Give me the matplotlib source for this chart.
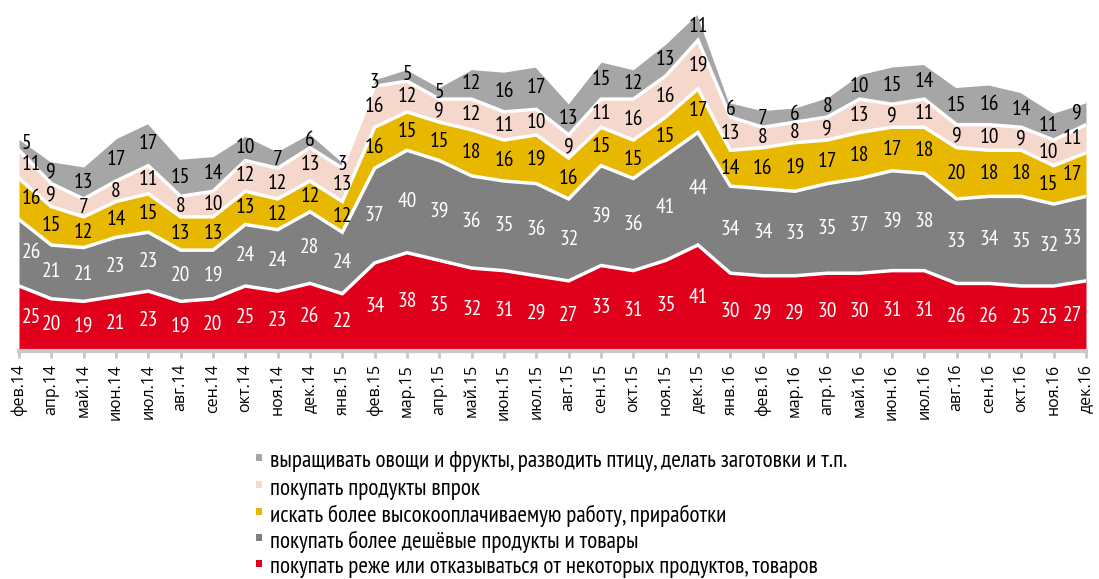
import matplotlib
matplotlib.use("Agg")
import matplotlib.pyplot as plt
from matplotlib import font_manager as fm
from matplotlib.patches import Rectangle
from matplotlib.transforms import offset_copy
import numpy as np

months = ["фев.14","апр.14","май.14","июн.14","июл.14","авг.14","сен.14","окт.14","ноя.14","дек.14",
          "янв.15","фев.15","мар.15","апр.15","май.15","июн.15","июл.15","авг.15","сен.15","окт.15",
          "ноя.15","дек.15","янв.16","фев.16","мар.16","апр.16","май.16","июн.16","июл.16","авг.16",
          "сен.16","окт.16","ноя.16","дек.16"]

reduce_buy = [25,20,19,21,23,19,20,25,23,26,22,34,38,35,32,31,29,27,33,31,35,41,30,29,29,30,30,31,31,26,26,25,25,27]
cheaper = [26,21,21,23,23,20,19,24,24,28,24,37,40,39,36,35,36,32,39,36,41,44,34,34,33,35,37,39,38,33,34,35,32,33]
better_job = [16,15,12,14,15,13,13,13,12,12,12,16,15,15,18,16,19,16,15,15,15,17,14,16,19,17,18,17,18,20,18,18,15,17]
stock_up = [11,9,7,8,11,8,10,12,12,13,13,16,12,9,12,11,10,9,11,16,16,19,13,8,8,9,13,9,11,9,10,9,10,11]
grow_own = [5,9,13,17,17,15,14,10,7,6,3,3,5,5,12,16,17,13,15,12,13,11,6,7,6,8,10,15,14,15,16,14,11,9]

series = [reduce_buy, cheaper, better_job, stock_up, grow_own]
names = ["покупать реже или отказываться от некоторых продуктов, товаров",
         "покупать более дешёвые продукты и товары",
         "искать более высокооплачиваемую работу, приработки",
         "покупать продукты впрок",
         "выращивать овощи и фрукты, разводить птицу, делать заготовки и т.п."]
colors = ["#E0001B", "#808080", "#E8B800", "#F6D7CB", "#A6A6A6"]
label_colors = ["white", "white", "black", "black", "black"]

available = set(f.name for f in fm.fontManager.ttflist)
narrow = next((c for c in ["PT Sans Narrow", "Fira Sans Condensed", "Roboto Condensed",
                           "Open Sans Condensed", "Liberation Sans Narrow"] if c in available), "DejaVu Sans")
NUM_FONT = [narrow, "DejaVu Sans"]
TICK_FONT = ["Open Sans", "DejaVu Sans"]

W, H = 1099, 579
fig = plt.figure(figsize=(W/100, H/100), dpi=100)
x0, x1 = 19, 1086
ybot, ytop = 350, 0
ax = fig.add_axes([x0/W, (H-ybot)/H, (x1-x0)/W, (ybot-ytop)/H])

n = len(months)
x = np.arange(n)
base = np.zeros(n)
left_tr = offset_copy(ax.transData, fig=fig, x=3, y=0, units="dots")
right_tr = offset_copy(ax.transData, fig=fig, x=-4, y=0, units="dots")
prev_tr = offset_copy(ax.transData, fig=fig, x=-5, y=0, units="dots")
for vals, col, lc in zip(series, colors, label_colors):
    v = np.array(vals, dtype=float)
    ax.fill_between(x, base, base+v, color=col, linewidth=0, zorder=1)
    for xi, b, vi in zip(x, base, v):
        if xi == 0:
            kw = dict(ha="left", transform=left_tr)
        elif xi == n-1:
            kw = dict(ha="right", transform=right_tr)
        elif xi == n-2:
            kw = dict(ha="center", transform=prev_tr)
        else:
            kw = dict(ha="center")
        ax.text(xi, b+vi/2, str(int(vi)), va="center", color=lc,
                fontsize=15.5, family=NUM_FONT, zorder=4, **kw)
    base = base + v
    ax.plot(x, base, color="white", lw=2.5, zorder=2, solid_joinstyle="miter")

ax.set_xlim(0, n-1)
ax.set_ylim(0, 136.7)
ax.set_yticks([])
for s in ["top", "right", "left"]:
    ax.spines[s].set_visible(False)
ax.spines["bottom"].set_color("#C8C8C8")
ax.spines["bottom"].set_linewidth(3)
ax.spines["bottom"].set_position(("outward", 1))
ax.set_xticks(x)
ax.set_xticklabels(months, rotation=90, family=TICK_FONT, fontsize=11.5)
ax.tick_params(axis="x", length=5, width=2, color="#C8C8C8", pad=4)

# legend (top to bottom)
leg_y = [462, 489, 516, 542, 568]
renderer = fig.canvas.get_renderer()
fs = 14
probe = fig.text(0, 0, names[4], fontsize=fs, family=NUM_FONT)
wpx = probe.get_window_extent(renderer).width
probe.remove()
fs = fs * 580.0 / wpx
for yy, i in zip(leg_y, [4, 3, 2, 1, 0]):
    fig.add_artist(Rectangle((256/W, (H-yy+1)/H), 6/W, 7/H, color=colors[i],
                             transform=fig.transFigure, linewidth=0))
    fig.text(270/W, (H-yy)/H, names[i], ha="left", va="center", fontsize=fs,
             family=NUM_FONT, color="black")

fig.savefig("out.png", dpi=100)
